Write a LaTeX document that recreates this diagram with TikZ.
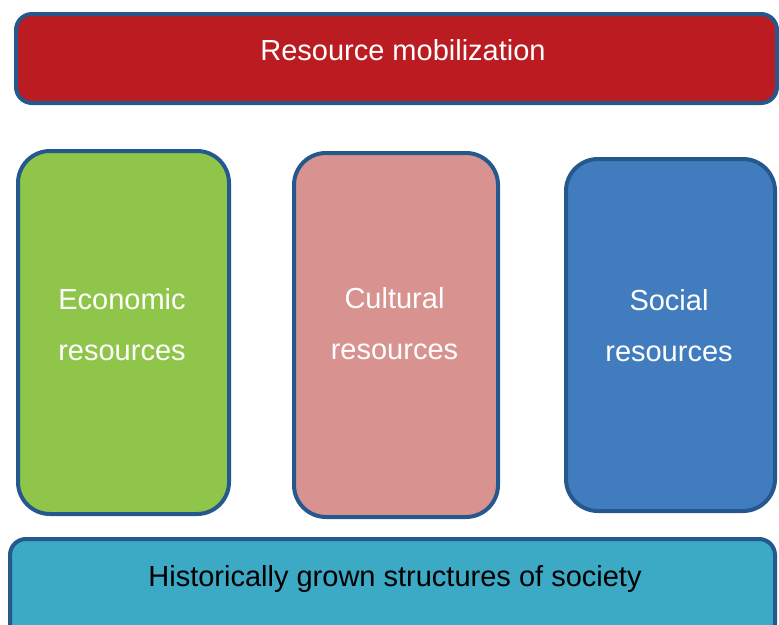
\documentclass[tikz,border=0pt]{standalone}
\usepackage{fontspec}
\setmainfont{Liberation Sans}
\definecolor{edgeblue}{RGB}{37,88,140}
\definecolor{mobred}{RGB}{186,28,34}
\definecolor{econgreen}{RGB}{143,198,74}
\definecolor{cultpink}{RGB}{216,146,144}
\definecolor{socblue}{RGB}{65,125,190}
\definecolor{histcyan}{RGB}{60,169,197}

\begin{document}
\begin{tikzpicture}[x=1pt,y=-1pt,
  panel/.style={draw=edgeblue,line width=4pt,inner sep=0pt,rounded corners=#1},
  boxtext/.style={anchor=base,align=center,inner sep=0pt,
    font=\fontsize{29pt}{51pt}\selectfont}]
% the page
\useasboundingbox (0,0) rectangle (779,624);
\clip (0,0) rectangle (779,624);
% the two bars
\node[panel=16pt,fill=mobred,minimum width=761pt,minimum height=89pt]
  (mob) at (396.5,58.5) {};
\node[panel=16pt,fill=histcyan,minimum width=765pt,minimum height=101pt]
  (hist) at (392.5,589.5) {};
% the three resource boxes
\node[panel=32pt,fill=econgreen,minimum width=211pt,minimum height=363pt]
  (econ) at (123.5,332.5) {};
\node[panel=32pt,fill=cultpink,minimum width=204pt,minimum height=364pt]
  (cult) at (396,335) {};
\node[panel=32pt,fill=socblue,minimum width=209pt,minimum height=352pt]
  (soc) at (670.5,335) {};
% the texts (base is the baseline of the last line)
\node[boxtext,text=white] (mobtext) at (403,60) {Resource mobilization};
\node[boxtext,text=black] (histtext) at (395,586) {Historically grown structures of society};
\node[boxtext,text=white] (econtext) at (122,360) {Economic\\resources};
\node[boxtext,text=white] (culttext) at (394.5,359.5) {Cultural\\resources};
\node[boxtext,text=white] (soctext) at (669,361) {Social\\resources};
\end{tikzpicture}
\end{document}
